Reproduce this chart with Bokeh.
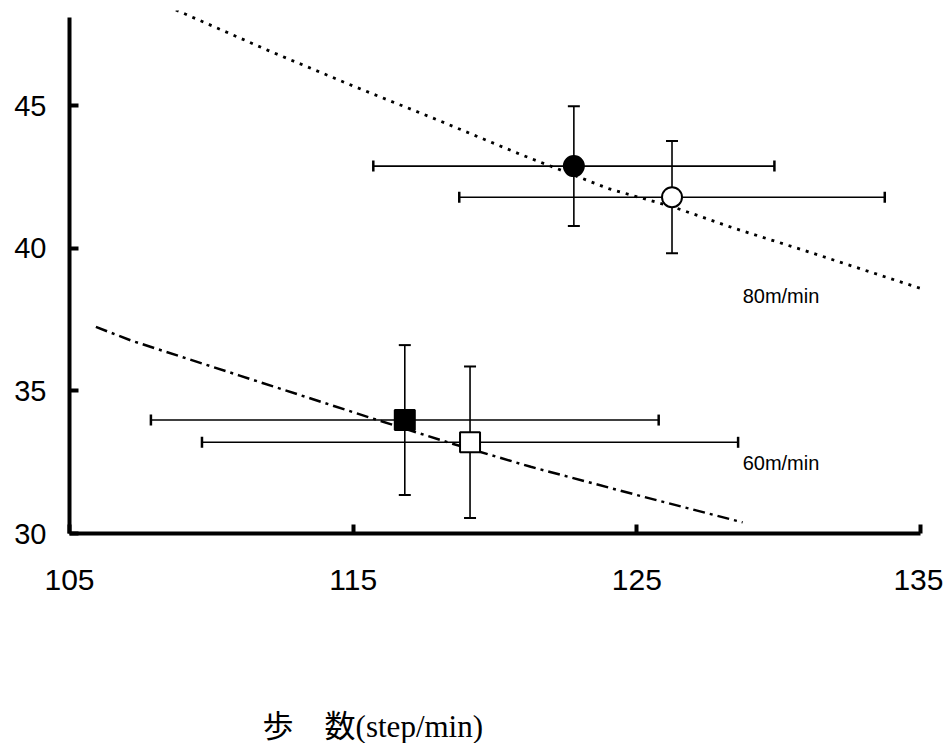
from bokeh.plotting import figure
from bokeh.layouts import column
from bokeh.models import ColumnDataSource, Whisker, TeeHead, Label, Range1d, FixedTicker
from bokeh.embed import file_html
from bokeh.resources import INLINE

# ---- data ----
series_names = ["80 filled", "80 open", "60 filled", "60 open"]
step_mean = [122.78, 126.24, 116.82, 119.12]
step_sd = [7.07, 7.50, 8.95, 9.45]
y_mean = [42.89, 41.80, 33.98, 33.20]
y_sd = [2.10, 1.97, 2.63, 2.66]
markers = ["circle", "circle", "square", "square"]
fills = ["black", "white", "black", "white"]

curve80_x = [108.75, 112.0, 115.0, 118.0, 120.9, 124.0, 126.3, 128.4, 131.0, 135.0]
curve80_y = [48.37, 46.95, 45.70, 44.50, 43.30, 42.10, 41.45, 40.72, 39.90, 38.60]
curve60_x = [105.93, 107.17, 111.0, 115.86, 118.5, 121.26, 125.0, 128.73]
curve60_y = [37.25, 36.77, 35.54, 33.98, 33.15, 32.34, 31.35, 30.39]

x_ticks = [105, 115, 125, 135]
y_ticks = [30, 35, 40, 45]
speed_labels = ["80m/min", "60m/min"]
x_title = "歩　数(step/min)"

W = 943
p = figure(width=W, height=623, output_backend="svg", toolbar_location=None,
           x_range=Range1d(105, 135), y_range=Range1d(30, 48.35),
           min_border_left=69, min_border_right=23, min_border_top=10,
           min_border_bottom=90)
p.outline_line_color = None
p.xgrid.visible = False
p.ygrid.visible = False
p.background_fill_color = "white"
p.border_fill_color = "white"

for ax in (p.xaxis[0], p.yaxis[0]):
    ax.axis_line_width = 4
    ax.axis_line_color = "black"
    ax.major_tick_in = 9
    ax.major_tick_out = 0
    ax.major_tick_line_width = 4
    ax.minor_tick_line_color = None
    ax.major_label_text_font = "Liberation Sans"
    ax.major_label_text_color = "black"

p.yaxis.bounds = (30, 48.1)
p.xaxis.major_label_text_font_size = "30px"
p.yaxis.major_label_text_font_size = "29px"
p.xaxis.ticker = FixedTicker(ticks=x_ticks)
p.yaxis.ticker = FixedTicker(ticks=y_ticks)
p.xaxis.major_label_standoff = 36
p.yaxis.major_label_standoff = 23

# curves
p.line(curve80_x, curve80_y, line_color="black", line_width=2.8, line_dash="3 6")
p.line(curve60_x, curve60_y, line_color="black", line_width=2.5, line_dash="12 5 3 5")

# error bars
src = ColumnDataSource(dict(
    x=step_mean, y=y_mean,
    xl=[m - s for m, s in zip(step_mean, step_sd)],
    xu=[m + s for m, s in zip(step_mean, step_sd)],
    yl=[m - s for m, s in zip(y_mean, y_sd)],
    yu=[m + s for m, s in zip(y_mean, y_sd)],
    marker=markers, fill=fills,
))
wx = Whisker(source=src, base="y", lower="xl", upper="xu", dimension="width",
             line_width=1.6, line_color="black", level="underlay",
             lower_head=TeeHead(size=11, line_width=2.5, line_color="black"),
             upper_head=TeeHead(size=11, line_width=2.5, line_color="black"))
wy = Whisker(source=src, base="x", lower="yl", upper="yu", dimension="height",
             line_width=1.6, line_color="black", level="underlay",
             lower_head=TeeHead(size=12, line_width=2, line_color="black"),
             upper_head=TeeHead(size=12, line_width=2, line_color="black"))
p.add_layout(wx)
p.add_layout(wy)

p.scatter("x", "y", source=src, marker="marker", size=20, fill_color="fill",
          line_color="black", line_width=2)

# curve labels
p.add_layout(Label(x=128.73, y=38.33, text=speed_labels[0], text_font="Liberation Sans",
                   text_font_size="20px", text_baseline="middle", text_color="black"))
p.add_layout(Label(x=128.73, y=32.47, text=speed_labels[1], text_font="Liberation Sans",
                   text_font_size="20px", text_baseline="middle", text_color="black"))

# x-axis title, drawn in a small strip below the chart
q = figure(width=W, height=120, output_backend="svg", toolbar_location=None,
           x_range=Range1d(0, W), y_range=Range1d(0, 120),
           min_border_left=0, min_border_right=0, min_border_top=0, min_border_bottom=0)
q.axis.visible = False
q.grid.visible = False
q.outline_line_color = None
q.add_layout(Label(x=214, y=17, text=x_title,
                   text_font="Liberation Serif, Noto Sans CJK JP",
                   text_font_size="31px", text_baseline="middle", text_align="left",
                   text_color="black"))

layout = column(p, q, spacing=0)
open("out.html", "w").write(file_html(layout, INLINE))
